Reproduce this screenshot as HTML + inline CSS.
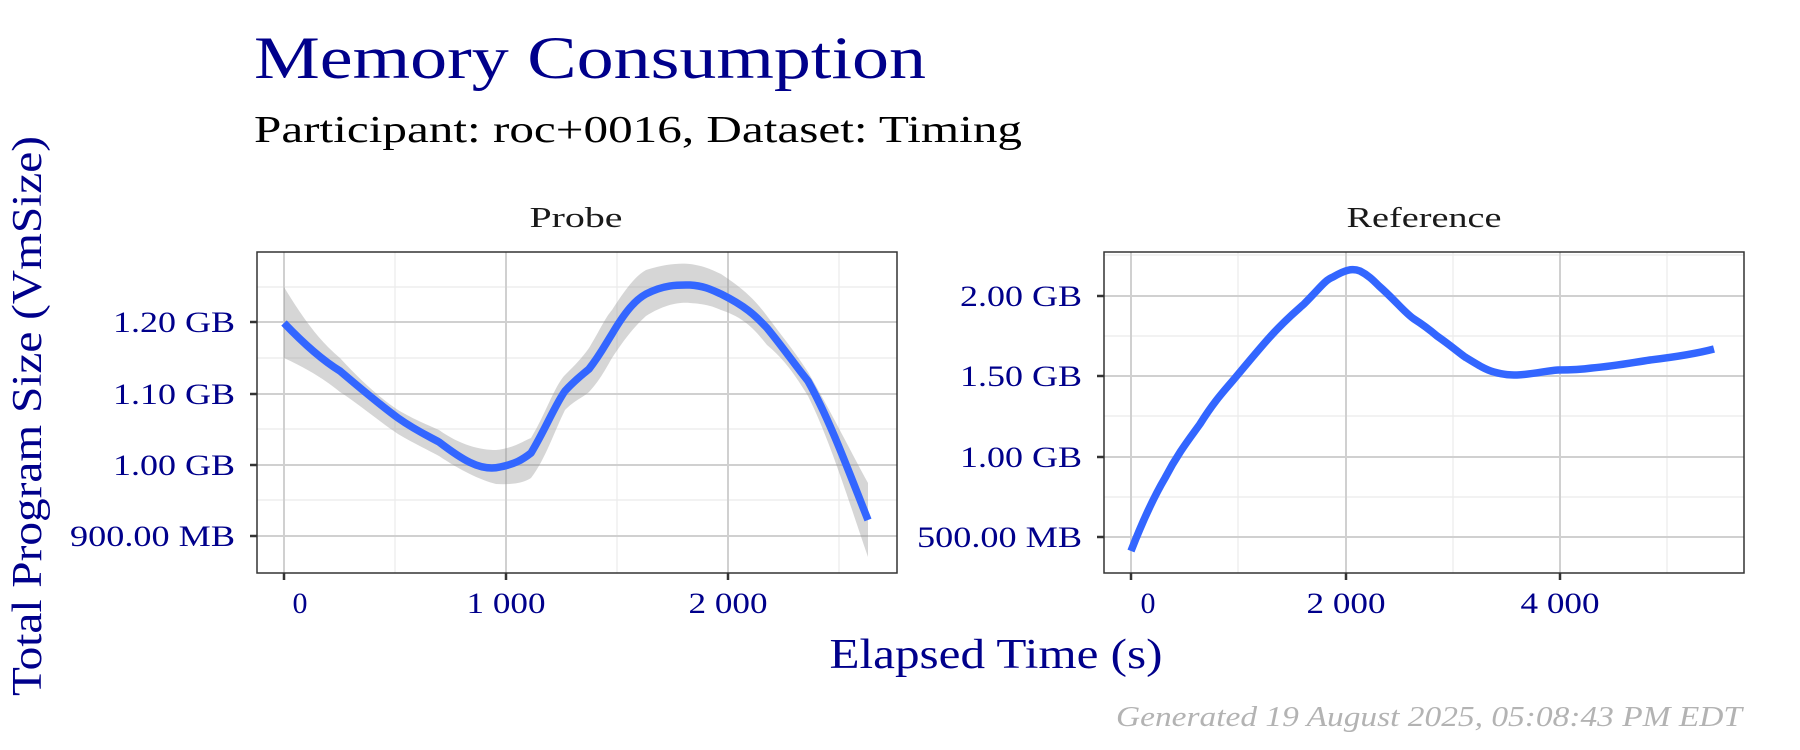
<!DOCTYPE html>
<html><head><meta charset="utf-8"><style>
html,body{margin:0;padding:0;background:#fff;}
svg{display:block;font-family:"Liberation Serif",serif;}
</style></head><body>
<svg width="1800" height="750" viewBox="0 0 1800 750" xmlns="http://www.w3.org/2000/svg">
<text x="254" y="78" font-size="60" fill="#00008B" textLength="672" lengthAdjust="spacingAndGlyphs">Memory Consumption</text>
<text x="254" y="142" font-size="38" fill="#000" textLength="768" lengthAdjust="spacingAndGlyphs">Participant: roc+0016, Dataset: Timing</text>
<text x="576" y="227" font-size="29" fill="#1a1a1a" text-anchor="middle" textLength="93" lengthAdjust="spacingAndGlyphs">Probe</text>
<text x="1424" y="227" font-size="29" fill="#1a1a1a" text-anchor="middle" textLength="155" lengthAdjust="spacingAndGlyphs">Reference</text>
<!-- Probe panel -->
<g>
<g stroke="#ebebeb" stroke-width="1.2">
<line x1="257" x2="897" y1="287" y2="287"/><line x1="257" x2="897" y1="358" y2="358"/><line x1="257" x2="897" y1="429" y2="429"/><line x1="257" x2="897" y1="500" y2="500"/>
<line x1="395" x2="395" y1="252" y2="573"/><line x1="617" x2="617" y1="252" y2="573"/><line x1="839" x2="839" y1="252" y2="573"/>
</g>
<g stroke="#d0d0d0" stroke-width="2">
<line x1="257" x2="897" y1="322" y2="322"/><line x1="257" x2="897" y1="394" y2="394"/><line x1="257" x2="897" y1="465" y2="465"/><line x1="257" x2="897" y1="536" y2="536"/>
<line x1="284" x2="284" y1="252" y2="573"/><line x1="506" x2="506" y1="252" y2="573"/><line x1="728" x2="728" y1="252" y2="573"/>
</g>
<path d="M284,287 C310,330 325,345 340,358 C360,380 380,398 398,410 C415,420 428,425 439,430 C460,445 480,450 496,450 C515,448 525,440 531,438 C545,415 555,385 565,375 C575,365 582,358 589,348 C600,330 605,318 612,310 C625,290 635,276 646,270 C665,264 680,263 690,264 C705,266 712,270 721,274 C745,290 755,300 767,316 C785,340 795,352 808,372 C830,410 850,450 868,483 L868,557 C850,505 830,440 808,396 C795,375 785,360 767,345 C755,330 745,318 721,310 C712,306 705,304 690,303 C680,302 665,304 646,316 C635,326 625,338 612,358 C605,370 600,380 589,392 C582,398 575,400 565,410 C555,430 545,460 531,478 C525,482 515,485 496,484 C480,480 460,470 439,456 C428,450 415,444 398,434 C380,422 360,405 340,392 C325,380 310,370 284,358 Z" fill="#999" fill-opacity="0.4"/>
<path d="M284,323 C305,345 322,360 340,371 C360,388 380,405 398,418 C415,430 428,436 439,442 C460,458 480,472 500,467 C515,464 522,460 531,453 C545,430 555,405 565,391 C575,380 582,375 589,369 C600,355 605,345 612,334 C625,312 635,300 646,294 C665,284 680,285 690,285 C705,286 712,290 721,294 C745,306 755,315 767,328 C785,350 795,365 808,381 C830,420 850,475 868,520" fill="none" stroke="#3366FF" stroke-width="7.5" stroke-linejoin="round"/>
<rect x="257" y="252" width="640" height="321" fill="none" stroke="#333" stroke-width="1.5"/>
<g stroke="#333" stroke-width="2.5">
<line x1="250" x2="257" y1="322" y2="322"/><line x1="250" x2="257" y1="394" y2="394"/><line x1="250" x2="257" y1="465" y2="465"/><line x1="250" x2="257" y1="536" y2="536"/>
<line x1="284" x2="284" y1="573" y2="580"/><line x1="506" x2="506" y1="573" y2="580"/><line x1="728" x2="728" y1="573" y2="580"/>
</g>
<g font-size="30" fill="#00008B" text-anchor="end" lengthAdjust="spacingAndGlyphs">
<text x="235" y="332" textLength="122" lengthAdjust="spacingAndGlyphs">1.20 GB</text><text x="235" y="404" textLength="122" lengthAdjust="spacingAndGlyphs">1.10 GB</text><text x="235" y="475" textLength="122" lengthAdjust="spacingAndGlyphs">1.00 GB</text><text x="235" y="546" textLength="165" lengthAdjust="spacingAndGlyphs">900.00 MB</text>
</g>
<g font-size="30" fill="#00008B" text-anchor="middle">
<text x="300" y="613">0</text><text x="506" y="613" textLength="79" lengthAdjust="spacingAndGlyphs">1 000</text><text x="728" y="613" textLength="79" lengthAdjust="spacingAndGlyphs">2 000</text>
</g>
</g>
<!-- Reference panel -->
<g>
<g stroke="#ebebeb" stroke-width="1.2">
<line x1="1104" x2="1744" y1="336" y2="336"/><line x1="1104" x2="1744" y1="416" y2="416"/><line x1="1104" x2="1744" y1="497" y2="497"/><line x1="1104" x2="1744" y1="255" y2="255"/>
<line x1="1238" x2="1238" y1="252" y2="573"/><line x1="1453" x2="1453" y1="252" y2="573"/><line x1="1667" x2="1667" y1="252" y2="573"/>
</g>
<g stroke="#d0d0d0" stroke-width="2">
<line x1="1104" x2="1744" y1="296" y2="296"/><line x1="1104" x2="1744" y1="376" y2="376"/><line x1="1104" x2="1744" y1="457" y2="457"/><line x1="1104" x2="1744" y1="537" y2="537"/>
<line x1="1131" x2="1131" y1="252" y2="573"/><line x1="1346" x2="1346" y1="252" y2="573"/><line x1="1560" x2="1560" y1="252" y2="573"/>
</g>
<path d="M1131,551 C1145,515 1155,495 1165,478 C1178,453 1190,438 1200,424 C1215,400 1225,390 1235,378 C1250,360 1260,348 1269,338 C1285,320 1295,312 1304,304 C1320,288 1325,280 1333,277 C1345,270 1352,268 1360,271 C1368,275 1373,280 1379,286 C1395,300 1405,313 1414,319 C1425,326 1430,330 1437,336 C1450,345 1458,352 1465,357 C1478,365 1486,370 1494,372 C1505,375 1510,375 1517,375 C1535,374 1545,371 1558,370 C1575,370 1585,369 1592,368 C1615,366 1630,363 1650,360 C1675,357 1695,354 1714,349" fill="none" stroke="#3366FF" stroke-width="7.5" stroke-linejoin="round"/>
<rect x="1104" y="252" width="640" height="321" fill="none" stroke="#333" stroke-width="1.5"/>
<g stroke="#333" stroke-width="2.5">
<line x1="1097" x2="1104" y1="296" y2="296"/><line x1="1097" x2="1104" y1="376" y2="376"/><line x1="1097" x2="1104" y1="457" y2="457"/><line x1="1097" x2="1104" y1="537" y2="537"/>
<line x1="1131" x2="1131" y1="573" y2="580"/><line x1="1346" x2="1346" y1="573" y2="580"/><line x1="1560" x2="1560" y1="573" y2="580"/>
</g>
<g font-size="30" fill="#00008B" text-anchor="end">
<text x="1082" y="306" textLength="122" lengthAdjust="spacingAndGlyphs">2.00 GB</text><text x="1082" y="386" textLength="122" lengthAdjust="spacingAndGlyphs">1.50 GB</text><text x="1082" y="467" textLength="122" lengthAdjust="spacingAndGlyphs">1.00 GB</text><text x="1082" y="547" textLength="165" lengthAdjust="spacingAndGlyphs">500.00 MB</text>
</g>
<g font-size="30" fill="#00008B" text-anchor="middle">
<text x="1148" y="613">0</text><text x="1346" y="613" textLength="79" lengthAdjust="spacingAndGlyphs">2 000</text><text x="1560" y="613" textLength="79" lengthAdjust="spacingAndGlyphs">4 000</text>
</g>
</g>
<text x="996" y="668" font-size="42" fill="#00008B" text-anchor="middle" textLength="333" lengthAdjust="spacingAndGlyphs">Elapsed Time (s)</text>
<text transform="translate(41,416) rotate(-90)" font-size="42" fill="#00008B" text-anchor="middle" textLength="560" lengthAdjust="spacingAndGlyphs">Total Program Size (VmSize)</text>
<text x="1742" y="726" font-size="28" fill="#b3b3b3" font-style="italic" text-anchor="end" textLength="626" lengthAdjust="spacingAndGlyphs">Generated 19 August 2025, 05:08:43 PM EDT</text>
</svg>
</body></html>
